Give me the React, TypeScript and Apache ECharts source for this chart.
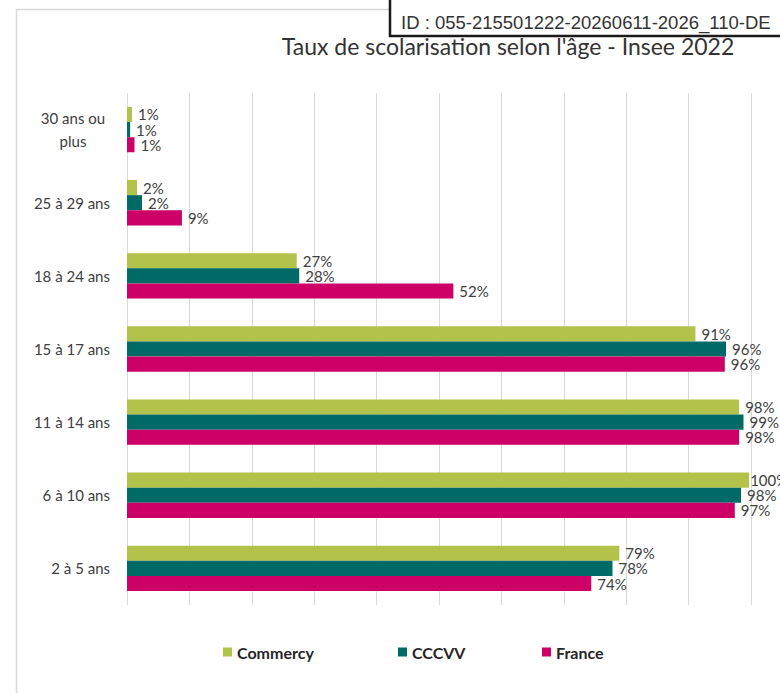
import React, { useEffect, useRef } from "react";
import * as echarts from "echarts";

const categories = [
  "30 ans ou plus",
  "25 à 29 ans",
  "18 à 24 ans",
  "15 à 17 ans",
  "11 à 14 ans",
  "6 à 10 ans",
  "2 à 5 ans",
];
const seriesNames = ["Commercy", "CCCVV", "France"];
const commercy = [0.8, 1.6, 27.2, 91.1, 98.1, 99.7, 78.9];
const cccvv = [0.5, 2.4, 27.6, 96.0, 98.8, 98.4, 77.8];
const france = [1.2, 8.8, 52.3, 95.8, 98.1, 97.4, 74.4];
const colors = ["#b3c24b", "#006a66", "#cc0066"];
const titleText = "Taux de scolarisation selon l'âge - Insee 2022";
const idText = "ID : 055-215501222-20260611-2026_110-DE";
const legendLefts = [218, 393, 537];

const FONT = "Lato, 'Noto Sans', sans-serif";

export default function App() {
  const ref = useRef<HTMLDivElement>(null);
  useEffect(() => {
    if (!ref.current) return;
    const chart = echarts.init(ref.current, undefined, { renderer: "svg" });
    const values = [commercy, cccvv, france];
    chart.setOption({
      animation: false,
      backgroundColor: "#ffffff",
      textStyle: { fontFamily: FONT },
      grid: { left: 127, right: 29, top: 93, bottom: 88, containLabel: false },
      legend: seriesNames.map((n, i) => ({
        data: [n],
        left: legendLefts[i],
        top: 639,
        itemWidth: 9,
        itemHeight: 9,
        icon: "rect",
        itemGap: 5,
        textStyle: { fontFamily: FONT, fontSize: 16, fontWeight: "bold", color: "#262626" },
      })),
      xAxis: {
        type: "value",
        min: 0,
        max: 100,
        interval: 10,
        axisLabel: { show: false },
        axisLine: { show: false },
        axisTick: { show: false },
        splitLine: { show: true, lineStyle: { color: "#d9d9d9", width: 1 } },
      },
      yAxis: {
        type: "category",
        inverse: true,
        data: categories,
        axisLine: { show: false },
        axisTick: { show: false },
        axisLabel: {
          margin: 17,
          fontSize: 15,
          color: "#404040",
          fontFamily: FONT,
          formatter: (v: string) =>
            v === "30 ans ou plus" ? "{c|30 ans ou}\n{c|plus}" : v,
          rich: {
            c: { width: 74, align: "center", fontSize: 15, color: "#404040", fontFamily: FONT, lineHeight: 23 },
          },
        },
      },
      series: seriesNames.map((n, i) => ({
        name: n,
        type: "bar",
        data: values[i].map((v) =>
          v >= 99.5 ? { value: v, label: { distance: 1 } } : v
        ),
        barGap: "0%",
        barCategoryGap: "38%",
        itemStyle: { color: colors[i] },
        label: {
          show: true,
          position: "right",
          distance: 6,
          fontSize: 15,
          color: "#404040",
          fontFamily: FONT,
          formatter: (p: any) => Math.round(p.value) + "%",
        },
      })),
      graphic: [
        {
          type: "rect",
          z: 1,
          silent: true,
          shape: { x: 16.5, y: 9.5, width: 800, height: 720 },
          style: { fill: "none", stroke: "#d9d9d9", lineWidth: 1.5 },
        },
        {
          type: "text",
          z: 50,
          x: 508,
          y: 46,
          style: {
            text: titleText,
            fontFamily: FONT,
            fontSize: 23,
            fill: "#333333",
            textAlign: "center",
            textVerticalAlign: "middle",
          },
        },
        {
          type: "rect",
          z: 100,
          shape: { x: 390, y: -5, width: 420, height: 41 },
          style: { fill: "#ffffff", stroke: "#1a1a1a", lineWidth: 2.5 },
        },
        {
          type: "text",
          z: 101,
          x: 401,
          y: 22,
          style: {
            text: idText,
            fontFamily: "'Liberation Sans', Arial, sans-serif",
            fontSize: 18.5,
            fill: "#333333",
            textAlign: "left",
            textVerticalAlign: "middle",
          },
        },
      ],
    });
    return () => chart.dispose();
  }, []);
  return (
    <div
      ref={ref}
      style={{ position: "fixed", left: 0, top: 0, width: 780, height: 693 }}
    />
  );
}
